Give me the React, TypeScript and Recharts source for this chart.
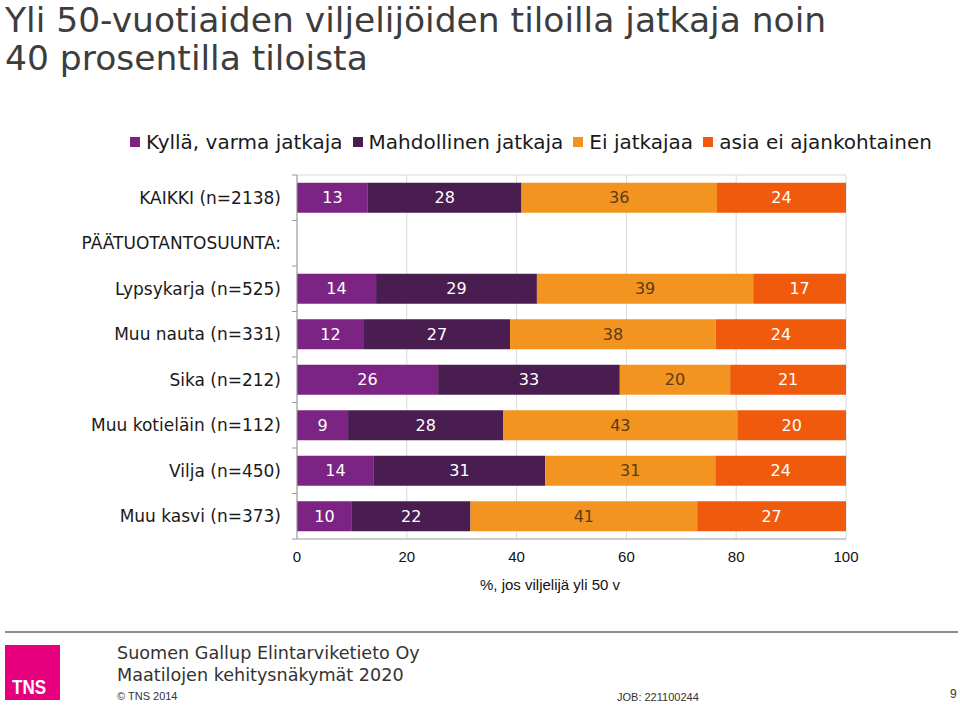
import React from "react";
import {
  BarChart,
  Bar,
  XAxis,
  YAxis,
  CartesianGrid,
  Legend,
  LabelList,
} from "recharts";

const categories = [
  "KAIKKI (n=2138)",
  "PÄÄTUOTANTOSUUNTA:",
  "Lypsykarja (n=525)",
  "Muu nauta (n=331)",
  "Sika (n=212)",
  "Muu kotieläin (n=112)",
  "Vilja (n=450)",
  "Muu kasvi (n=373)",
];
const varmaJatkaja = [12.9, null, 14.4, 12.2, 25.7, 9.3, 14.0, 10.0];
const mahdollinenJatkaja = [28.0, null, 29.3, 26.6, 33.1, 28.3, 31.2, 21.6];
const eiJatkajaa = [35.6, null, 39.4, 37.5, 20.1, 42.6, 31.0, 41.3];
const eiAjankohtainen = [23.5, null, 16.9, 23.7, 21.1, 19.8, 23.8, 27.1];
const xTicks = [0, 20, 40, 60, 80, 100];

const seriesNames = [
  "Kyllä, varma jatkaja",
  "Mahdollinen jatkaja",
  "Ei jatkajaa",
  "asia ei ajankohtainen",
];
const seriesKeys = ["varma", "mahdollinen", "ei", "asia"];
const seriesColors = ["#7B2483", "#4A1D50", "#F39421", "#EF5A0D"];
const labelColors = ["#FFFFFF", "#FFFFFF", "#5C3C14", "#FFFFFF"];

const data = categories.map((name, i) => ({
  name,
  varma: varmaJatkaja[i],
  mahdollinen: mahdollinenJatkaja[i],
  ei: eiJatkajaa[i],
  asia: eiAjankohtainen[i],
}));

const CHART_W = 960;
const CHART_H = 600;
const MARGIN = { top: 175, right: 114, left: 0, bottom: 31 };
const X_AXIS_H = 30;
const BAND = (CHART_H - MARGIN.top - MARGIN.bottom - X_AXIS_H) / categories.length;

const VERDANA = "'DejaVu Sans', Verdana, sans-serif";
const ARIAL = "'Liberation Sans', Arial, sans-serif";

const CategoryTick = (props: any) => {
  const { x, y, payload, index } = props;
  const isLast = index === categories.length - 1;
  return (
    <g>
      <line x1={x} x2={x - 5} y1={y - BAND / 2} y2={y - BAND / 2} stroke="#999" />
      {isLast && (
        <line x1={x} x2={x - 5} y1={y + BAND / 2} y2={y + BAND / 2} stroke="#999" />
      )}
      <text
        x={x - 16}
        y={y}
        textAnchor="end"
        dominantBaseline="central"
        fontFamily={VERDANA}
        fontSize={17}
        fill="#1a1a1a"
      >
        {payload.value}
      </text>
    </g>
  );
};

const LegendContent = () => (
  <div
    style={{
      display: "flex",
      alignItems: "center",
      paddingLeft: 130,
      fontFamily: VERDANA,
      fontSize: 20,
      lineHeight: "24px",
      color: "#1a1a1a",
      whiteSpace: "nowrap",
    }}
  >
    {seriesNames.map((n, i) => (
      <div key={n} style={{ display: "flex", alignItems: "center", marginRight: 10 }}>
        <div
          style={{
            width: 10,
            height: 10,
            background: seriesColors[i],
            marginRight: 6,
          }}
        />
        <span>{n}</span>
      </div>
    ))}
  </div>
);

const fmt = (v: any) => (v === null || v === undefined ? "" : String(Math.round(Number(v))));

export default function App() {
  return (
    <div
      style={{
        position: "absolute",
        left: 0,
        top: 0,
        width: 960,
        height: 705,
        background: "#fff",
        overflow: "hidden",
      }}
    >
      <div
        style={{
          position: "absolute",
          left: 5,
          top: 1,
          fontFamily: VERDANA,
          fontSize: 34.5,
          lineHeight: "38px",
          color: "#3d3d3d",
          whiteSpace: "nowrap",
        }}
      >
        Yli 50-vuotiaiden viljelijöiden tiloilla jatkaja noin
        <br />
        40 prosentilla tiloista
      </div>

      <div style={{ position: "absolute", left: 0, top: 0 }}>
        <BarChart
          width={CHART_W}
          height={CHART_H}
          data={data}
          layout="vertical"
          margin={MARGIN}
          barCategoryGap="17%"
        >
          <CartesianGrid
            stroke="#d9d9d9"
            vertical={true}
            horizontal={true}
            horizontalCoordinatesGenerator={(p: any) => [p.offset.top]}
          />
          <XAxis
            type="number"
            domain={[0, 100]}
            ticks={xTicks}
            height={X_AXIS_H}
            axisLine={{ stroke: "#999" }}
            tickLine={false}
            tickSize={6}
            tickMargin={6}
            tick={{ fontFamily: ARIAL, fontSize: 15, fill: "#111" }}
          />
          <YAxis
            type="category"
            dataKey="name"
            width={297}
            axisLine={{ stroke: "#999" }}
            tickLine={false}
            tickSize={0}
            tickMargin={0}
            interval={0}
            tick={<CategoryTick />}
          />
          <Legend
            verticalAlign="top"
            content={<LegendContent />}
            wrapperStyle={{
              position: "absolute",
              top: 130,
              left: 0,
              width: 960,
              height: 0,
              overflow: "visible",
            }}
          />
          {seriesKeys.map((k, i) => (
            <Bar
              key={k}
              dataKey={k}
              name={seriesNames[i]}
              stackId="s"
              fill={seriesColors[i]}
              isAnimationActive={false}
            >
              <LabelList
                dataKey={k}
                position="center"
                formatter={fmt}
                fill={labelColors[i]}
                fontFamily={VERDANA}
                fontSize={16}
              />
            </Bar>
          ))}
        </BarChart>
      </div>

      <div
        style={{
          position: "absolute",
          left: 430,
          width: 240,
          top: 576,
          textAlign: "center",
          fontFamily: ARIAL,
          fontSize: 15,
          color: "#111",
        }}
      >
        %, jos viljelijä yli 50 v
      </div>

      <div
        style={{
          position: "absolute",
          left: 5,
          top: 631,
          width: 953,
          height: 2,
          background: "#8c8c8c",
        }}
      />
      <div
        style={{
          position: "absolute",
          left: 5,
          top: 645,
          width: 55,
          height: 55,
          background: "#E6007E",
        }}
      >
        <div
          style={{
            position: "absolute",
            left: 7,
            bottom: 1,
            fontFamily: ARIAL,
            fontWeight: "bold",
            fontSize: 20,
            color: "#fff",
            transform: "scaleX(0.85)",
            transformOrigin: "left bottom",
          }}
        >
          TNS
        </div>
      </div>
      <div
        style={{
          position: "absolute",
          left: 117,
          top: 642,
          fontFamily: VERDANA,
          fontSize: 17.6,
          lineHeight: "22px",
          color: "#333",
          whiteSpace: "nowrap",
        }}
      >
        Suomen Gallup Elintarviketieto Oy
        <br />
        Maatilojen kehitysnäkymät 2020
      </div>
      <div
        style={{
          position: "absolute",
          left: 117,
          top: 690,
          fontFamily: ARIAL,
          fontSize: 11,
          color: "#333",
        }}
      >
        © TNS 2014
      </div>
      <div
        style={{
          position: "absolute",
          left: 617,
          top: 691,
          fontFamily: ARIAL,
          fontSize: 11,
          color: "#333",
        }}
      >
        JOB: 221100244
      </div>
      <div
        style={{
          position: "absolute",
          left: 950,
          top: 687,
          fontFamily: ARIAL,
          fontSize: 12,
          color: "#333",
        }}
      >
        9
      </div>
    </div>
  );
}
